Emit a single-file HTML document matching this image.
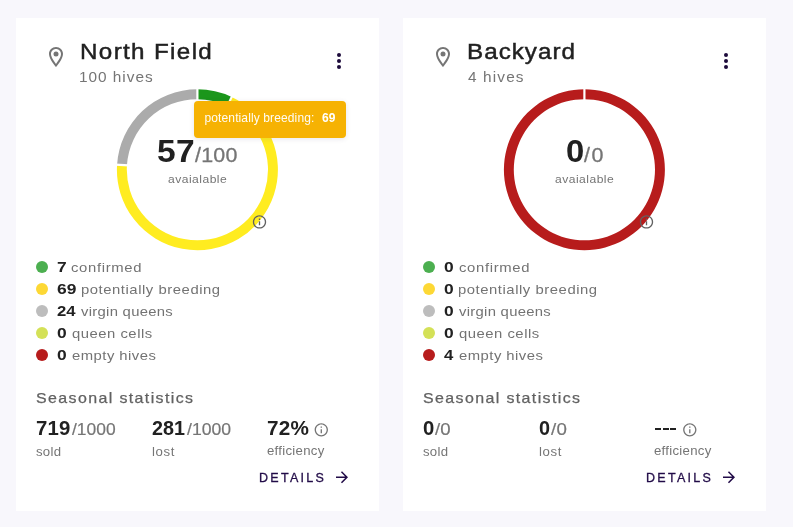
<!DOCTYPE html>
<html>
<head>
<meta charset="utf-8">
<title>Apiaries</title>
<style>
html,body{margin:0;padding:0;}
body{width:793px;height:527px;overflow:hidden;background:#f8f7fc;font-family:"Liberation Sans",sans-serif;position:relative;color:#212121;}
.card{position:absolute;top:18px;width:363px;height:493px;background:#fff;}
#c1{left:16px;}
#c2{left:403px;}
.t{will-change:transform;position:absolute;white-space:nowrap;line-height:1;margin:0;padding:0;transform-origin:0 50%;}
.pin{position:absolute;left:27.8px;top:27px;width:24px;height:24px;}
.menu{position:absolute;left:311px;top:31px;width:24px;height:24px;}
.donut{position:absolute;left:96px;top:66px;width:170px;height:170px;}
.info{position:absolute;width:16px;height:16px;}
.tip{position:absolute;left:178px;top:83px;width:152px;height:36.6px;background:#f6b203;border-radius:4px;box-shadow:0 1px 5px rgba(60,50,90,0.12);color:#fff;font-size:12px;}
.tip span{position:absolute;top:10.5px;line-height:1;white-space:nowrap;}
.dot{position:absolute;left:20px;width:12px;height:12px;border-radius:50%;}
.arr{position:absolute;left:317px;top:450px;width:18px;height:18px;}
.dash{position:absolute;top:410px;height:2px;width:6px;background:#212121;}
</style>
</head>
<body>
<div class="card" id="c1">
  <svg class="pin" viewBox="0 0 24 24"><path fill="#757575" d="M12 2C8.13 2 5 5.13 5 9c0 5.25 7 13 7 13s7-7.75 7-13c0-3.870-3.130-7-7-7zM7 9c0-2.760 2.240-5 5-5s5 2.240 5 5c0 2.880-2.880 7.190-5 9.880C9.920 16.210 7 11.850 7 9z"/><circle cx="12" cy="9" r="2.500" fill="#757575"/></svg>
  <svg class="menu" viewBox="0 0 24 24"><circle cx="12" cy="6" r="2" fill="#1d0b3b"/><circle cx="12" cy="12" r="2" fill="#1d0b3b"/><circle cx="12" cy="18" r="2" fill="#1d0b3b"/></svg>
  <svg class="donut" viewBox="0 0 170 170"><path fill="#1b961b" d="M85.40 5.25A80.5 80.5 0 0 1 119.68 12.91L115.46 21.87A70.6 70.6 0 0 0 85.40 15.15Z"/><path fill="#ffec20" d="M119.68 12.91A80.5 80.5 0 1 1 5.06 80.70L14.94 81.32A70.6 70.6 0 1 0 115.46 21.87Z"/><path fill="#ababab" d="M5.06 80.70A80.5 80.5 0 0 1 85.40 5.25L85.40 15.15A70.6 70.6 0 0 0 14.94 81.32Z"/><line x1="85.40" y1="17.15" x2="85.40" y2="3.25" stroke="#fff" stroke-width="2.2"/><line x1="114.61" y1="23.68" x2="120.53" y2="11.10" stroke="#fff" stroke-width="2.2"/><line x1="16.94" y1="81.44" x2="3.06" y2="80.57" stroke="#fff" stroke-width="2.2"/></svg>
  <div class="t" style="left:64.00px;top:22.83px;font-size:22px;color:#212121;letter-spacing:1.223px;transform:scaleX(1.1000);-webkit-text-stroke:0.45px #212121;">North Field</div>
  <div class="t" style="left:63.23px;top:52.15px;font-size:14px;color:#757575;letter-spacing:0.878px;transform:scaleX(1.1000);">100 hives</div>
  <div class="t" style="left:140.77px;top:118.18px;font-size:30.5px;color:#212121;font-weight:bold;letter-spacing:0.240px;transform:scaleX(1.1000);">57</div>
  <div class="t" style="left:179.09px;top:127.94px;font-size:19.5px;color:#757575;letter-spacing:0.212px;transform:scaleX(1.1000);-webkit-text-stroke:0.3px #757575;">/100</div>
  <div class="t" style="left:152.06px;top:155.69px;font-size:11px;color:#757575;letter-spacing:0.429px;transform:scaleX(1.1000);">avaialable</div>
  <div class="t" style="left:40.95px;top:241.73px;font-size:14.5px;color:#212121;font-weight:bold;transform:scaleX(1.2000);">7</div>
  <div class="t" style="left:55.43px;top:242.57px;font-size:13.5px;color:#737373;letter-spacing:0.597px;transform:scaleX(1.1000);">confirmed</div>
  <div class="t" style="left:41.01px;top:263.73px;font-size:14.5px;color:#212121;font-weight:bold;letter-spacing:0.131px;transform:scaleX(1.2000);">69</div>
  <div class="t" style="left:65.30px;top:264.57px;font-size:13.5px;color:#737373;letter-spacing:0.492px;transform:scaleX(1.1000);">potentially breeding</div>
  <div class="t" style="left:41.01px;top:285.73px;font-size:14.5px;color:#212121;font-weight:bold;transform:scaleX(1.1503);">24</div>
  <div class="t" style="left:64.68px;top:286.57px;font-size:13.5px;color:#737373;letter-spacing:0.257px;transform:scaleX(1.1000);">virgin queens</div>
  <div class="t" style="left:40.87px;top:307.73px;font-size:14.5px;color:#212121;font-weight:bold;transform:scaleX(1.2000);">0</div>
  <div class="t" style="left:55.74px;top:308.57px;font-size:13.5px;color:#737373;letter-spacing:0.458px;transform:scaleX(1.1000);">queen cells</div>
  <div class="t" style="left:40.87px;top:329.73px;font-size:14.5px;color:#212121;font-weight:bold;transform:scaleX(1.2000);">0</div>
  <div class="t" style="left:55.74px;top:330.57px;font-size:13.5px;color:#737373;letter-spacing:0.425px;transform:scaleX(1.1000);">empty hives</div>
  <div class="t" style="left:19.99px;top:372.73px;font-size:14.5px;color:#616161;letter-spacing:1.259px;transform:scaleX(1.1000);-webkit-text-stroke:0.25px #616161;">Seasonal statistics</div>
  <div class="t" style="left:19.87px;top:401.09px;font-size:19.5px;color:#212121;font-weight:bold;letter-spacing:0.204px;transform:scaleX(1.0441);">719</div>
  <div class="t" style="left:55.52px;top:402.61px;font-size:17px;color:#757575;transform:scaleX(1.0243);-webkit-text-stroke:0.2px #757575;">/1000</div>
  <div class="t" style="left:136.11px;top:401.09px;font-size:19.5px;color:#212121;font-weight:bold;transform:scaleX(1.0114);">281</div>
  <div class="t" style="left:171.32px;top:402.61px;font-size:17px;color:#757575;transform:scaleX(1.0339);-webkit-text-stroke:0.2px #757575;">/1000</div>
  <div class="t" style="left:251.06px;top:401.09px;font-size:19.5px;color:#212121;font-weight:bold;letter-spacing:0.187px;transform:scaleX(1.0615);">72%</div>
  <div class="t" style="left:20.08px;top:427.84px;font-size:12px;color:#757575;letter-spacing:0.240px;transform:scaleX(1.1000);">sold</div>
  <div class="t" style="left:135.96px;top:427.84px;font-size:12px;color:#757575;letter-spacing:0.570px;transform:scaleX(1.1000);">lost</div>
  <div class="t" style="left:251.21px;top:426.84px;font-size:12px;color:#757575;letter-spacing:0.250px;transform:scaleX(1.1000);">efficiency</div>
  <div class="t" style="left:243.21px;top:453.87px;font-size:12.5px;color:#220c48;letter-spacing:2.270px;-webkit-text-stroke:0.3px #220c48;">DETAILS</div>
  <svg class="info" style="left:235px;top:195px;" viewBox="-0.750 -1.350 24 24"><path fill="#616161" d="M11 7h2v2h-2zm0 4h2v6h-2zm1-9C6.480 2 2 6.480 2 12s4.480 10 10 10 10-4.480 10-10S17.520 2 12 2zm0 18c-4.410 0-8-3.590-8-8s3.590-8 8-8 8 3.590 8 8-3.590 8-8 8z"/></svg>
  <div class="tip"><span style="left:10.5px;opacity:0.96;letter-spacing:0.12px;">potentially breeding:</span><span style="right:10.7px;font-weight:bold;">69</span></div>
  <div class="dot" style="top:243px;background:#4caf50;"></div><div class="dot" style="top:265px;background:#fdd835;"></div><div class="dot" style="top:287px;background:#bdbdbd;"></div><div class="dot" style="top:309px;background:#d4e157;"></div><div class="dot" style="top:331px;background:#b71c1c;"></div>
  <svg class="info" style="left:297px;top:403px;" viewBox="-0.450 -1.200 24 24"><path fill="#757575" d="M11 7h2v2h-2zm0 4h2v6h-2zm1-9C6.480 2 2 6.480 2 12s4.480 10 10 10 10-4.480 10-10S17.520 2 12 2zm0 18c-4.410 0-8-3.590-8-8s3.590-8 8-8 8 3.590 8 8-3.590 8-8 8z"/></svg>
  <svg class="arr" viewBox="0 -0.4 24 24"><path fill="#220c48" d="M12 4l-1.410 1.410L16.170 11H4v2h12.170l-5.580 5.590L12 20l8-8z"/></svg>
</div>
<div class="card" id="c2">
  <svg class="pin" viewBox="0 0 24 24"><path fill="#757575" d="M12 2C8.13 2 5 5.13 5 9c0 5.25 7 13 7 13s7-7.75 7-13c0-3.870-3.130-7-7-7zM7 9c0-2.760 2.240-5 5-5s5 2.240 5 5c0 2.880-2.880 7.190-5 9.880C9.920 16.210 7 11.850 7 9z"/><circle cx="12" cy="9" r="2.500" fill="#757575"/></svg>
  <svg class="menu" viewBox="0 0 24 24"><circle cx="12" cy="6" r="2" fill="#1d0b3b"/><circle cx="12" cy="12" r="2" fill="#1d0b3b"/><circle cx="12" cy="18" r="2" fill="#1d0b3b"/></svg>
  <svg class="donut" viewBox="0 0 170 170"><path fill="#b71c1c" d="M85.40 5.25A80.5 80.5 0 1 1 85.39 5.25L85.39 15.15A70.6 70.6 0 1 0 85.40 15.15Z"/><line x1="85.40" y1="17.15" x2="85.40" y2="3.25" stroke="#fff" stroke-width="2.2"/></svg>
  <div class="t" style="left:63.90px;top:22.83px;font-size:22px;color:#212121;letter-spacing:0.923px;transform:scaleX(1.1000);-webkit-text-stroke:0.45px #212121;">Backyard</div>
  <div class="t" style="left:64.71px;top:52.15px;font-size:14px;color:#757575;letter-spacing:1.022px;transform:scaleX(1.1000);">4 hives</div>
  <div class="t" style="left:162.54px;top:118.18px;font-size:30.5px;color:#212121;font-weight:bold;transform:scaleX(1.0765);">0</div>
  <div class="t" style="left:181.17px;top:127.95px;font-size:19.5px;color:#757575;letter-spacing:1.334px;transform:scaleX(1.1000);-webkit-text-stroke:0.3px #757575;">/0</div>
  <div class="t" style="left:152.06px;top:155.69px;font-size:11px;color:#757575;letter-spacing:0.429px;transform:scaleX(1.1000);">avaialable</div>
  <div class="t" style="left:40.87px;top:241.73px;font-size:14.5px;color:#212121;font-weight:bold;transform:scaleX(1.2000);">0</div>
  <div class="t" style="left:55.73px;top:242.57px;font-size:13.5px;color:#737373;letter-spacing:0.597px;transform:scaleX(1.1000);">confirmed</div>
  <div class="t" style="left:40.87px;top:263.73px;font-size:14.5px;color:#212121;font-weight:bold;transform:scaleX(1.2000);">0</div>
  <div class="t" style="left:55.14px;top:264.57px;font-size:13.5px;color:#737373;letter-spacing:0.492px;transform:scaleX(1.1000);">potentially breeding</div>
  <div class="t" style="left:40.87px;top:285.73px;font-size:14.5px;color:#212121;font-weight:bold;transform:scaleX(1.2000);">0</div>
  <div class="t" style="left:56.08px;top:286.57px;font-size:13.5px;color:#737373;letter-spacing:0.257px;transform:scaleX(1.1000);">virgin queens</div>
  <div class="t" style="left:40.87px;top:307.73px;font-size:14.5px;color:#212121;font-weight:bold;transform:scaleX(1.2000);">0</div>
  <div class="t" style="left:55.74px;top:308.57px;font-size:13.5px;color:#737373;letter-spacing:0.458px;transform:scaleX(1.1000);">queen cells</div>
  <div class="t" style="left:41.29px;top:329.73px;font-size:14.5px;color:#212121;font-weight:bold;transform:scaleX(1.1531);">4</div>
  <div class="t" style="left:55.74px;top:330.57px;font-size:13.5px;color:#737373;letter-spacing:0.425px;transform:scaleX(1.1000);">empty hives</div>
  <div class="t" style="left:19.99px;top:372.73px;font-size:14.5px;color:#616161;letter-spacing:1.259px;transform:scaleX(1.1000);-webkit-text-stroke:0.25px #616161;">Seasonal statistics</div>
  <div class="t" style="left:20.10px;top:401.14px;font-size:19.5px;color:#212121;font-weight:bold;transform:scaleX(1.0400);">0</div>
  <div class="t" style="left:32.21px;top:402.61px;font-size:17px;color:#757575;transform:scaleX(1.0934);-webkit-text-stroke:0.2px #757575;">/0</div>
  <div class="t" style="left:135.82px;top:401.13px;font-size:19.5px;color:#212121;font-weight:bold;transform:scaleX(1.0187);">0</div>
  <div class="t" style="left:147.61px;top:402.61px;font-size:17px;color:#757575;letter-spacing:0.191px;transform:scaleX(1.1000);-webkit-text-stroke:0.2px #757575;">/0</div>
  <div class="t" style="left:20.08px;top:427.84px;font-size:12px;color:#757575;letter-spacing:0.240px;transform:scaleX(1.1000);">sold</div>
  <div class="t" style="left:135.96px;top:427.84px;font-size:12px;color:#757575;letter-spacing:0.570px;transform:scaleX(1.1000);">lost</div>
  <div class="t" style="left:251.21px;top:426.84px;font-size:12px;color:#757575;letter-spacing:0.250px;transform:scaleX(1.1000);">efficiency</div>
  <div class="t" style="left:243.21px;top:453.87px;font-size:12.5px;color:#220c48;letter-spacing:2.270px;-webkit-text-stroke:0.3px #220c48;">DETAILS</div>
  <svg class="info" style="left:235px;top:195px;" viewBox="-0.750 -1.350 24 24"><path fill="#616161" d="M11 7h2v2h-2zm0 4h2v6h-2zm1-9C6.480 2 2 6.480 2 12s4.480 10 10 10 10-4.480 10-10S17.520 2 12 2zm0 18c-4.410 0-8-3.590-8-8s3.590-8 8-8 8 3.590 8 8-3.590 8-8 8z"/></svg>
  <div class="dot" style="top:243px;background:#4caf50;"></div><div class="dot" style="top:265px;background:#fdd835;"></div><div class="dot" style="top:287px;background:#bdbdbd;"></div><div class="dot" style="top:309px;background:#d4e157;"></div><div class="dot" style="top:331px;background:#b71c1c;"></div>
  <div class="dash" style="left:251.9px;"></div><div class="dash" style="left:259.5px;"></div><div class="dash" style="left:267.1px;"></div>
  <svg class="info" style="left:278px;top:403px;" viewBox="-1.200 -1.200 24 24"><path fill="#757575" d="M11 7h2v2h-2zm0 4h2v6h-2zm1-9C6.480 2 2 6.480 2 12s4.480 10 10 10 10-4.480 10-10S17.520 2 12 2zm0 18c-4.410 0-8-3.590-8-8s3.590-8 8-8 8 3.590 8 8-3.590 8-8 8z"/></svg>
  <svg class="arr" viewBox="0 -0.4 24 24"><path fill="#220c48" d="M12 4l-1.410 1.410L16.170 11H4v2h12.170l-5.580 5.590L12 20l8-8z"/></svg>
</div>
</body>
</html>
